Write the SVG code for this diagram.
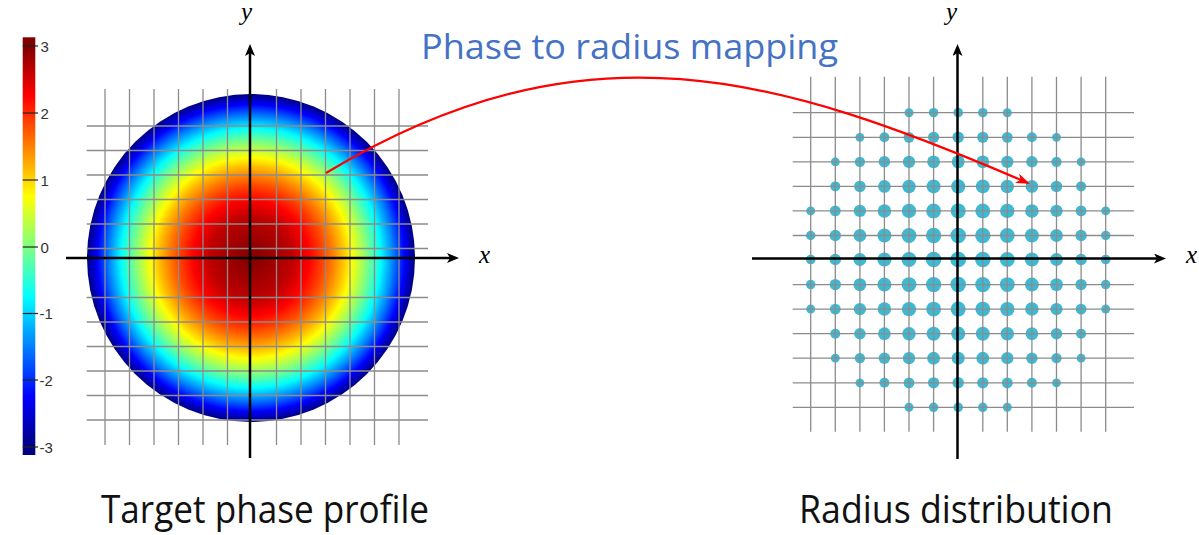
<svg xmlns="http://www.w3.org/2000/svg" xmlns:xlink="http://www.w3.org/1999/xlink" width="1199" height="535" viewBox="0 0 1199 535">
<style>
.grid{stroke:#8c8c8c;stroke-width:1.3;fill:none}
.axis{stroke:#000;stroke-width:2.5;fill:none}
.tick{stroke:#222;stroke-width:1.2}
.tl{font-family:"Liberation Sans",Arial,sans-serif;font-size:15px;fill:#333}
.var{font-family:"Liberation Serif","DejaVu Serif",serif;font-style:italic;font-size:25px;fill:#000}
.cap{font-family:"Open Sans","Noto Sans",sans-serif;font-size:38px;fill:#111}
.dot{fill:#3db9d3}
</style>
<defs>
<marker id="ax" viewBox="0 0 12 10" refX="4" refY="5" markerWidth="12" markerHeight="10" markerUnits="userSpaceOnUse" orient="auto">
<path d="M0,0 L12,5 L0,10 L3,5 Z" fill="#000"/>
</marker>
<marker id="ra" viewBox="0 0 14 10" refX="12" refY="5" markerWidth="14" markerHeight="10" markerUnits="userSpaceOnUse" orient="auto">
<path d="M0,0 L14,5 L0,10 L4,5 Z" fill="#ff0000"/>
</marker>
<linearGradient id="jetbar" gradientUnits="userSpaceOnUse" x1="0" y1="46" x2="0" y2="447">
<stop offset="0" stop-color="#800000"/>
<stop offset="0.125" stop-color="#ff0000"/>
<stop offset="0.375" stop-color="#ffff00"/>
<stop offset="0.625" stop-color="#00ffff"/>
<stop offset="0.875" stop-color="#0000ff"/>
<stop offset="1" stop-color="#000080"/>
</linearGradient>
<radialGradient id="jetrad" gradientUnits="userSpaceOnUse" cx="251" cy="258" r="164">
<stop offset="0" stop-color="#800000"/>
<stop offset="0.25" stop-color="#bf0000"/>
<stop offset="0.354" stop-color="#ff0000"/>
<stop offset="0.433" stop-color="#ff4000"/>
<stop offset="0.5" stop-color="#ff8000"/>
<stop offset="0.559" stop-color="#ffbf00"/>
<stop offset="0.612" stop-color="#ffff00"/>
<stop offset="0.661" stop-color="#bfff40"/>
<stop offset="0.707" stop-color="#80ff80"/>
<stop offset="0.75" stop-color="#40ffbf"/>
<stop offset="0.791" stop-color="#00ffff"/>
<stop offset="0.829" stop-color="#00bfff"/>
<stop offset="0.866" stop-color="#0080ff"/>
<stop offset="0.901" stop-color="#0040ff"/>
<stop offset="0.935" stop-color="#0000ff"/>
<stop offset="0.968" stop-color="#0000bf"/>
<stop offset="1" stop-color="#000080"/>
</radialGradient>
<g id="row0" class="dot">
<circle cx="909.0" cy="0" r="4.5"/><circle cx="933.6" cy="0" r="4.75"/><circle cx="958.2" cy="0" r="4.83"/><circle cx="982.8" cy="0" r="4.75"/><circle cx="1007.3" cy="0" r="4.5"/>
</g>
<g id="row1" class="dot">
<circle cx="859.9" cy="0" r="4.42"/><circle cx="884.4" cy="0" r="5.0"/><circle cx="909.0" cy="0" r="5.42"/><circle cx="933.6" cy="0" r="5.67"/><circle cx="958.2" cy="0" r="5.75"/><circle cx="982.8" cy="0" r="5.67"/><circle cx="1007.3" cy="0" r="5.42"/><circle cx="1031.9" cy="0" r="5.0"/><circle cx="1056.5" cy="0" r="4.42"/>
</g>
<g id="row2" class="dot">
<circle cx="835.3" cy="0" r="4.42"/><circle cx="859.9" cy="0" r="5.17"/><circle cx="884.4" cy="0" r="5.75"/><circle cx="909.0" cy="0" r="6.17"/><circle cx="933.6" cy="0" r="6.42"/><circle cx="958.2" cy="0" r="6.5"/><circle cx="982.8" cy="0" r="6.42"/><circle cx="1007.3" cy="0" r="6.17"/><circle cx="1031.9" cy="0" r="5.75"/><circle cx="1056.5" cy="0" r="5.17"/><circle cx="1081.1" cy="0" r="4.42"/>
</g>
<g id="row3" class="dot">
<circle cx="835.3" cy="0" r="5.0"/><circle cx="859.9" cy="0" r="5.75"/><circle cx="884.4" cy="0" r="6.34"/><circle cx="909.0" cy="0" r="6.75"/><circle cx="933.6" cy="0" r="7.0"/><circle cx="958.2" cy="0" r="7.09"/><circle cx="982.8" cy="0" r="7.0"/><circle cx="1007.3" cy="0" r="6.75"/><circle cx="1031.9" cy="0" r="6.34"/><circle cx="1056.5" cy="0" r="5.75"/><circle cx="1081.1" cy="0" r="5.0"/>
</g>
<g id="row4" class="dot">
<circle cx="810.7" cy="0" r="4.5"/><circle cx="835.3" cy="0" r="5.42"/><circle cx="859.9" cy="0" r="6.17"/><circle cx="884.4" cy="0" r="6.75"/><circle cx="909.0" cy="0" r="7.17"/><circle cx="933.6" cy="0" r="7.42"/><circle cx="958.2" cy="0" r="7.51"/><circle cx="982.8" cy="0" r="7.42"/><circle cx="1007.3" cy="0" r="7.17"/><circle cx="1031.9" cy="0" r="6.75"/><circle cx="1056.5" cy="0" r="6.17"/><circle cx="1081.1" cy="0" r="5.42"/><circle cx="1105.7" cy="0" r="4.5"/>
</g>
<g id="row5" class="dot">
<circle cx="810.7" cy="0" r="4.75"/><circle cx="835.3" cy="0" r="5.67"/><circle cx="859.9" cy="0" r="6.42"/><circle cx="884.4" cy="0" r="7.0"/><circle cx="909.0" cy="0" r="7.42"/><circle cx="933.6" cy="0" r="7.67"/><circle cx="958.2" cy="0" r="7.76"/><circle cx="982.8" cy="0" r="7.67"/><circle cx="1007.3" cy="0" r="7.42"/><circle cx="1031.9" cy="0" r="7.0"/><circle cx="1056.5" cy="0" r="6.42"/><circle cx="1081.1" cy="0" r="5.67"/><circle cx="1105.7" cy="0" r="4.75"/>
</g>
<g id="row6" class="dot">
<circle cx="810.7" cy="0" r="4.83"/><circle cx="835.3" cy="0" r="5.75"/><circle cx="859.9" cy="0" r="6.5"/><circle cx="884.4" cy="0" r="7.09"/><circle cx="909.0" cy="0" r="7.51"/><circle cx="933.6" cy="0" r="7.76"/><circle cx="958.2" cy="0" r="7.84"/><circle cx="982.8" cy="0" r="7.76"/><circle cx="1007.3" cy="0" r="7.51"/><circle cx="1031.9" cy="0" r="7.09"/><circle cx="1056.5" cy="0" r="6.5"/><circle cx="1081.1" cy="0" r="5.75"/><circle cx="1105.7" cy="0" r="4.83"/>
</g>
</defs>
<rect width="1199" height="535" fill="#fff"/>

<g id="colorbar">
<rect x="22.7" y="37.3" width="12.6" height="417.7" fill="url(#jetbar)"/>
<g class="tick">
<line x1="22.7" y1="46" x2="38" y2="46"/>
<line x1="22.7" y1="113" x2="38" y2="113"/>
<line x1="22.7" y1="180" x2="38" y2="180"/>
<line x1="22.7" y1="247" x2="38" y2="247"/>
<line x1="22.7" y1="313.5" x2="38" y2="313.5"/>
<line x1="22.7" y1="380" x2="38" y2="380"/>
<line x1="22.7" y1="447" x2="38" y2="447"/>
</g>
<text class="tl" x="40.5" y="51.5">3</text>
<text class="tl" x="40.5" y="118.5">2</text>
<text class="tl" x="40.5" y="185.5">1</text>
<text class="tl" x="40.5" y="252.5">0</text>
<text class="tl" x="39.5" y="319">-1</text>
<text class="tl" x="39.5" y="385.5">-2</text>
<text class="tl" x="39.5" y="452.5">-3</text>
</g>

<g id="phase-profile">
<circle cx="251" cy="258" r="164" fill="url(#jetrad)"/>
<g class="grid">
<path d="M105,89V445M129.5,89V445M154,89V445M178.5,89V445M203,89V445M227.5,89V445M276.5,89V445M301,89V445M325.5,89V445M350,89V445M374.5,89V445M399,89V445"/>
<path d="M86.7,126H428M86.7,150.5H428M86.7,175H428M86.7,199.5H428M86.7,224H428M86.7,248.5H428M86.7,297.5H428M86.7,322H428M86.7,346.5H428M86.7,371H428M86.7,395.5H428M86.7,420H428"/>
</g>
<line class="axis" x1="66" y1="258" x2="451" y2="258" marker-end="url(#ax)"/>
<line class="axis" x1="250" y1="458" x2="250" y2="52" marker-end="url(#ax)"/>
<text class="var" x="479" y="263">x</text>
<text class="var" x="241" y="20">y</text>
</g>

<g id="radius-distribution">
<use xlink:href="#row0" href="#row0" y="112.7"/>
<use xlink:href="#row1" href="#row1" y="137.3"/>
<use xlink:href="#row2" href="#row2" y="161.8"/>
<use xlink:href="#row3" href="#row3" y="186.4"/>
<use xlink:href="#row4" href="#row4" y="210.9"/>
<use xlink:href="#row5" href="#row5" y="235.5"/>
<use xlink:href="#row6" href="#row6" y="259.5"/>
<use xlink:href="#row5" href="#row5" y="284.6"/>
<use xlink:href="#row4" href="#row4" y="309.1"/>
<use xlink:href="#row3" href="#row3" y="333.7"/>
<use xlink:href="#row2" href="#row2" y="358.2"/>
<use xlink:href="#row1" href="#row1" y="382.8"/>
<use xlink:href="#row0" href="#row0" y="407.3"/>
<g class="grid">
<path d="M810.7,76.7V431.7M835.3,76.7V431.7M859.9,76.7V431.7M884.4,76.7V431.7M909,76.7V431.7M933.6,76.7V431.7M982.8,76.7V431.7M1007.3,76.7V431.7M1031.9,76.7V431.7M1056.5,76.7V431.7M1081.1,76.7V431.7M1105.7,76.7V431.7"/>
<path d="M792.7,112.7H1134M792.7,137.3H1134M792.7,161.8H1134M792.7,186.4H1134M792.7,210.9H1134M792.7,235.5H1134M792.7,284.6H1134M792.7,309.1H1134M792.7,333.7H1134M792.7,358.2H1134M792.7,382.8H1134M792.7,407.3H1134"/>
</g>
<line class="axis" x1="752" y1="258.5" x2="1158" y2="258.5" marker-end="url(#ax)"/>
<line class="axis" x1="957.5" y1="459" x2="957.5" y2="52" marker-end="url(#ax)"/>
<text class="var" x="1186" y="263">x</text>
<text class="var" x="946" y="20">y</text>
</g>

<g id="connectors">
<path d="M326,173 C586,17 778,75.5 1028,183" fill="none" stroke="#ff0000" stroke-width="2.2" marker-end="url(#ra)"/>
</g>

<g id="labels">
<text x="421" y="59" font-family="Open Sans, Noto Sans, sans-serif" font-size="35" fill="#4472c4" textLength="417" lengthAdjust="spacingAndGlyphs">Phase to radius mapping</text>
<text class="cap" x="101" y="523" textLength="328" lengthAdjust="spacingAndGlyphs">Target phase profile</text>
<text class="cap" x="799" y="523" textLength="314" lengthAdjust="spacingAndGlyphs">Radius distribution</text>
</g>
</svg>
